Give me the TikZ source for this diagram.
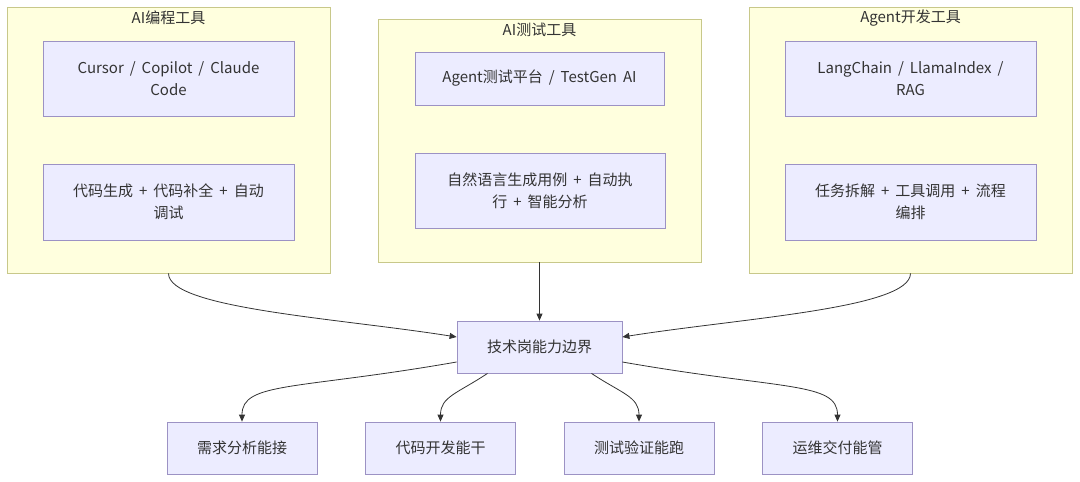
\documentclass[tikz,border=0pt]{standalone}
\usepackage{fontspec}
\setmainfont{Noto Sans CJK SC}
\usepackage{xcolor}
\definecolor{clusFill}{HTML}{FFFFDE}
\definecolor{clusLine}{HTML}{C8C88A}
\definecolor{nodeFill}{HTML}{ECECFF}
\definecolor{nodeLine}{HTML}{9C92C4}
\definecolor{inkGray}{HTML}{333333}
\usetikzlibrary{positioning,arrows.meta}
\newcommand{\boxfont}{\fontsize{15}{22}\selectfont\setlength{\spaceskip}{0.4em}}

\begin{document}
\begin{tikzpicture}[x=1pt, y=-1pt,
  clus/.style={draw=clusLine, fill=clusFill, line width=0.8pt, inner sep=0pt},
  box/.style={draw=nodeLine, fill=nodeFill, line width=0.8pt, inner sep=0pt,
              align=center, text=inkGray, font=\boxfont},
  lab/.style={text=inkGray, font=\fontsize{15}{22}\selectfont, inner sep=0pt},
  arr/.style={-{Triangle[length=7pt,width=6pt]}, draw=inkGray, line width=0.8pt}
]
\useasboundingbox (0,0) rectangle (1080,482);

%% tool groups
\node[clus, minimum width=323pt, minimum height=266pt] (cg) at (168.5,140)   {};
\node[clus, minimum width=323pt, minimum height=243pt] (tg) at (539.5,140.5) {};
\node[clus, minimum width=323pt, minimum height=266pt] (ag) at (910.5,140)   {};
\node[lab] (cgt) at (168.5,18) {AI编程工具};
\node[lab] (tgt) at (539.5,30) {AI测试工具};
\node[lab] (agt) at (910.5,18) {Agent开发工具};

\node[box, minimum width=251pt, minimum height=75pt] (c1) at (168.5,78.5) {Cursor / Copilot / Claude\\Code};
\node[box, minimum width=251pt, minimum height=76pt] (c2) at (168.5,202)  {代码生成 + 代码补全 + 自动\\调试};
\node[box, minimum width=249pt, minimum height=53pt] (t1) at (539.5,78.5) {Agent测试平台 / TestGen AI};
\node[box, minimum width=250pt, minimum height=75pt] (t2) at (540,190.5)  {自然语言生成用例 + 自动执\\行 + 智能分析};
\node[box, minimum width=251pt, minimum height=75pt] (a1) at (910.5,78.5) {LangChain / LlamaIndex /\\RAG};
\node[box, minimum width=251pt, minimum height=76pt] (a2) at (910.5,202)  {任务拆解 + 工具调用 + 流程\\编排};

%% boundary and roles
\node[box, minimum width=165pt, minimum height=52pt] (hub) at (539.5,347) {技术岗能力边界};
\node[box, minimum width=150pt, minimum height=52pt] (r1) at (242,448)   {需求分析能接};
\node[box, minimum width=150pt, minimum height=52pt] (r2) at (440.5,448) {代码开发能干};
\node[box, minimum width=150pt, minimum height=52pt] (r3) at (639,448)   {测试验证能跑};
\node[box, minimum width=150pt, minimum height=52pt] (r4) at (837.5,448) {运维交付能管};

\draw[arr] (cg.south) .. controls +(0,35) and +(-120,-19) .. ([yshift=10pt]hub.west);
\draw[arr] (tg.south) -- (hub.north);
\draw[arr] (ag.south) .. controls +(0,35) and +(120,-19) .. ([yshift=10pt]hub.east);

\draw[arr] ([yshift=-15pt]hub.west) .. controls +(-160,28) and +(0,-40) .. (r1.north);
\draw[arr] ([xshift=-52pt]hub.south) .. controls +(-30,20) and +(0,-25) .. (r2.north);
\draw[arr] ([xshift=52pt]hub.south) .. controls +(30,20) and +(0,-25) .. (r3.north);
\draw[arr] ([yshift=-15pt]hub.east) .. controls +(160,28) and +(0,-40) .. (r4.north);
\end{tikzpicture}
\end{document}
